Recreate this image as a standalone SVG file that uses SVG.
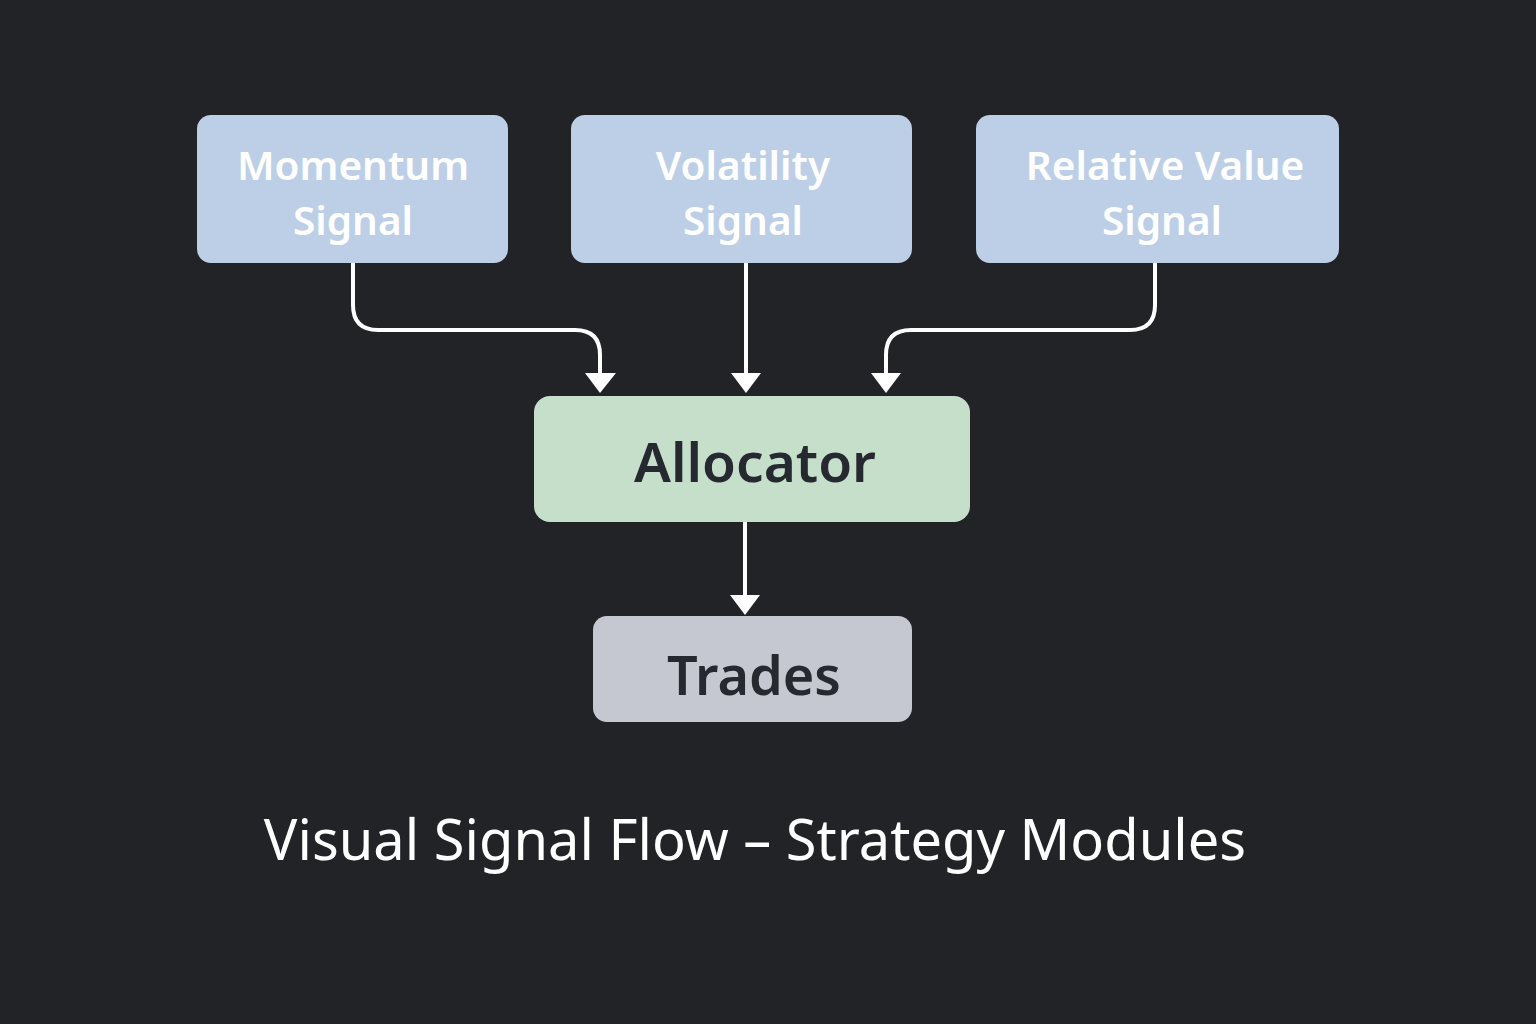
<svg xmlns="http://www.w3.org/2000/svg" width="1536" height="1024" viewBox="0 0 1536 1024">
<defs>
<style>
.sig{fill:#bccfe6;}
.lbl{font-family:"Noto Sans","Open Sans","Liberation Sans",sans-serif;font-weight:600;text-anchor:middle;}
.w{fill:#ffffff;font-size:40.5px;}
.d{fill:#262a30;}
.conn{fill:none;stroke:#ffffff;stroke-width:4;}
.head{fill:#ffffff;}
</style>
</defs>
<rect width="1536" height="1024" fill="#222327"/>
<g id="momentum">
<rect class="sig" x="197" y="115" width="311" height="148" rx="14"/>
<text class="lbl w" x="353" y="180">Momentum</text>
<text class="lbl w" x="353" y="235">Signal</text>
</g>
<g id="volatility">
<rect class="sig" x="571" y="115" width="341" height="148" rx="14"/>
<text class="lbl w" x="743" y="180">Volatility</text>
<text class="lbl w" x="743" y="235">Signal</text>
</g>
<g id="relative-value">
<rect class="sig" x="976" y="115" width="363" height="148" rx="14"/>
<text class="lbl w" x="1165" y="180">Relative Value</text>
<text class="lbl w" x="1162" y="235">Signal</text>
</g>
<g id="allocator">
<rect x="534" y="396" width="436" height="126" rx="16" fill="#c6dfca"/>
<text class="lbl d" x="755" y="482" font-size="55">Allocator</text>
</g>
<g id="trades">
<rect x="593" y="616" width="319" height="106" rx="14" fill="#c5c8d0"/>
<text class="lbl d" x="754" y="695" font-size="54">Trades</text>
</g>
<g id="connectors">
<path class="conn" d="M353,263 V305 Q353,330 378,330 H575 Q600,330 600,355 V374"/>
<polygon class="head" points="585,373 616,373 600,393"/>
<path class="conn" d="M746,263 V374"/>
<polygon class="head" points="731,373 761,373 746,393"/>
<path class="conn" d="M1155,263 V305 Q1155,330 1130,330 H911 Q886,330 886,355 V374"/>
<polygon class="head" points="871,373 901,373 886,393"/>
<path class="conn" d="M745,522 V596"/>
<polygon class="head" points="730,595 760,595 745,615"/>
</g>
<text id="title" x="755" y="860" font-family="'Noto Sans','Open Sans','Liberation Sans',sans-serif" font-size="56" fill="#ffffff" text-anchor="middle">Visual Signal Flow – Strategy Modules</text>
</svg>
